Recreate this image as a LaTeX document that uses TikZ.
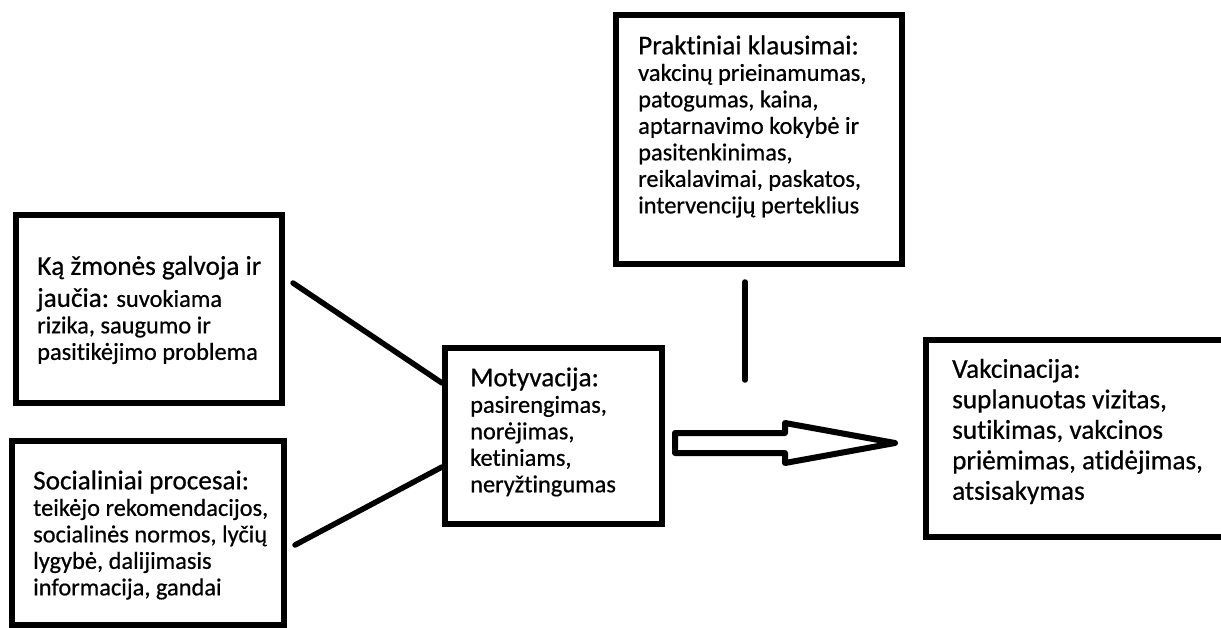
\documentclass[tikz,border=0pt]{standalone}
\usepackage{fontspec}
\setmainfont[FakeBold=0.6,Ligatures={NoCommon,NoContextual,NoRare}]{Carlito}
\newcommand{\headfont}{\fontsize{27.2}{30.5}\selectfont}
\newcommand{\bodyfont}{\fontsize{24.4}{26.5}\selectfont}
\begin{document}
\begin{tikzpicture}[x=1pt,y=-1pt,
    box/.style={draw,line width=6pt,inner sep=0pt},
    txt/.style={inner sep=0pt,align=left,font=\bodyfont,anchor=west},
    link/.style={line width=5.5pt,line cap=round}]
\useasboundingbox (0,0) rectangle (1221,628);
% boxes
\node[box,minimum width=266pt,minimum height=188pt] (think) at (149,309) {};
\node[box,minimum width=272pt,minimum height=184pt] (social) at (148,533) {};
\node[box,minimum width=217pt,minimum height=176pt] (motiv) at (553.5,436) {};
\node[box,minimum width=286pt,minimum height=249pt] (practical) at (759,139.5) {};
\node[box,minimum width=304pt,minimum height=197pt] (vacc) at (1078,438.5) {};
% texts
\node[txt] (think-text) at ([xshift=24pt,yshift=-1pt]think.west)
  {{\headfont Ką žmonės galvoja ir}\\[5.5pt]
   {\headfont jaučia:} suvokiama\\ rizika, saugumo ir\\ pasitikėjimo problema};
\node[txt] (social-text) at ([xshift=24pt,yshift=-2pt]social.west)
  {{\headfont Socialiniai procesai:}\\ teikėjo rekomendacijos,\\
   socialinės normos, lyčių\\ lygybė, dalijimasis\\ informacija, gandai};
\node[txt] (motiv-text) at ([xshift=28pt,yshift=4pt]motiv.west)
  {{\headfont Motyvacija:}\\ pasirengimas,\\ norėjimas,\\ ketiniams,\\ neryžtingumas};
\node[txt] (practical-text) at ([xshift=25pt,yshift=13pt]practical.west)
  {{\headfont Praktiniai klausimai:}\\ vakcinų prieinamumas,\\ patogumas, kaina,\\
   aptarnavimo kokybė ir\\ pasitenkinimas,\\ reikalavimai, paskatos,\\ intervencijų perteklius};
\node[txt,font=\headfont] (vacc-text) at ([xshift=29pt,yshift=7pt]vacc.west)
  {Vakcinacija:\\ suplanuotas vizitas,\\ sutikimas, vakcinos\\ priėmimas, atidėjimas,\\ atsisakymas};
% connectors
\draw[link] ([xshift=8pt,yshift=26pt]think.east) -- ([yshift=53pt]motiv.west);
\draw[link] ([xshift=8pt,yshift=-12pt]social.east) -- ([yshift=-31pt]motiv.west);
\draw[link] ([xshift=-14pt,yshift=-15pt]practical.south) coordinate (gap) -- ++(0,98);
\draw[line width=6pt,line join=round] ([xshift=10pt,yshift=-7pt]motiv.east) coordinate (tail)
  ++(0,-10) -- ++(110,0) -- ++(0,-10) -- ++(110,20) -- ++(-110,20) -- ++(0,-10) -- ++(-110,0) -- cycle;
\end{tikzpicture}
\end{document}
